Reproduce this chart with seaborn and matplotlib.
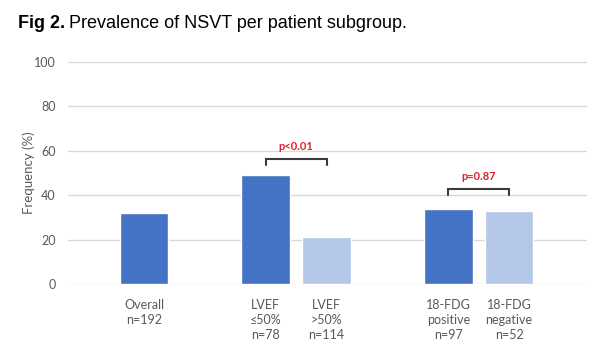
import matplotlib
matplotlib.use("Agg")
import matplotlib.pyplot as plt
import seaborn as sns
import pandas as pd

# dados
grupos = ["Overall\nn=192", "LVEF\n≤50%\nn=78", "LVEF\n>50%\nn=114",
          "18-FDG\npositive\nn=97", "18-FDG\nnegative\nn=52"]
posicoes = [0, 2, 3, 5, 6]
frequencia = [32, 49, 21, 34, 33]
tipo = ["a", "a", "b", "a", "b"]
comparacoes = [(2, 3, 56.3, "p<0.01"), (5, 6, 42.8, "p=0.87")]
yticks = [0, 20, 40, 60, 80, 100]

df = pd.DataFrame({"pos": posicoes, "freq": frequencia, "tipo": tipo})

sns.set_theme(style="white")
plt.rcParams["font.family"] = ["Lato", "DejaVu Sans"]

fig = plt.figure(figsize=(6.06, 3.54), dpi=100)
ax = fig.add_axes([68 / 606, 1 - 284 / 354, (587 - 68) / 606, (284 - 62) / 354])

sns.barplot(data=df, x="pos", y="freq", hue="tipo", native_scale=True,
            palette={"a": "#4472C4", "b": "#B4C7E7"}, width=0.8, dodge=False,
            legend=False, ax=ax, saturation=1)

ax.set_xlim(-1.25, 7.28)
ax.set_ylim(0, 100)
ax.set_yticks(yticks)
ax.yaxis.grid(True, color="#D9D9D9", lw=1)
ax.set_axisbelow(True)
for s in ax.spines.values():
    s.set_visible(False)
ax.tick_params(axis="y", length=0, labelsize=9, colors="#595959", pad=9)
ax.set_xticks(posicoes)
ax.set_xticklabels(grupos, linespacing=1.3, va="top")
ax.tick_params(axis="x", length=0, labelsize=9, colors="#595959", pad=11)
ax.set_xlabel("")
ax.set_ylabel("Frequency (%)", fontsize=9.5, color="#595959", labelpad=-1)

for x1, x2, h, txt in comparacoes:
    ax.plot([x1, x1, x2, x2], [h - 2.8, h, h, h - 2.8], color="#3a3a3a", lw=1.5,
            solid_joinstyle="miter")
    ax.text((x1 + x2) / 2, h + 3.0, txt, ha="center", va="bottom", color="#E0202A",
            fontsize=8, fontweight="bold")

t1 = fig.text(18 / 606, 1 - 23 / 354, "Fig 2.", fontsize=13, va="center",
              fontweight="bold", family=["Liberation Sans"], color="black")
fig.canvas.draw()
bb = t1.get_window_extent()
fig.text((bb.x1 + 4) / 606, 1 - 23 / 354, "Prevalence of NSVT per patient subgroup.",
         fontsize=13, va="center", family=["Liberation Sans"], color="black")

fig.savefig("out.png", dpi=100)
